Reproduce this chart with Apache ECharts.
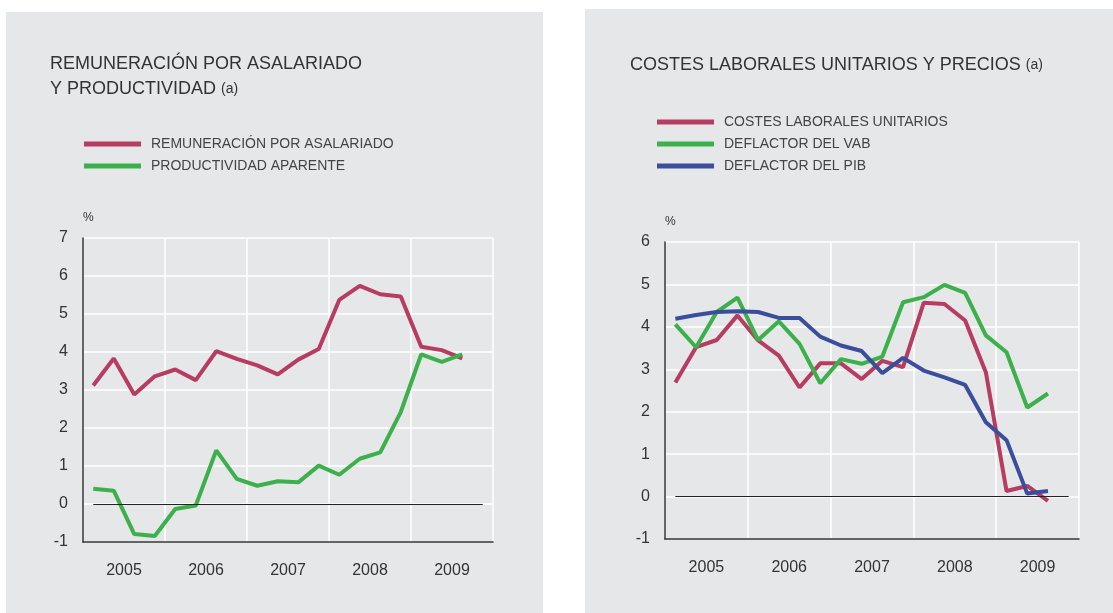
<!DOCTYPE html>
<html>
<head>
<meta charset="utf-8">
<script src="https://cdn.jsdelivr.net/npm/echarts@6/dist/echarts.min.js"></script>
<style>
  html, body { margin: 0; padding: 0; background: #fff; }
  #chart { width: 1113px; height: 613px; }
</style>
</head>
<body>
<div id="chart"></div>
<script>
// datos trimestrales, 2005 I - 2009 III
var years = ['2005', '2006', '2007', '2008', '2009'];
var quarters = [];
years.forEach(function (y) {
  ['I', 'II', 'III', 'IV'].forEach(function (q) { quarters.push(y + ' ' + q); });
});

var remuneracion = [3.12, 3.83, 2.88, 3.36, 3.54, 3.26, 4.02, 3.82, 3.65, 3.41,
  3.80, 4.08, 5.37, 5.74, 5.52, 5.46, 4.14, 4.05, 3.83];
var productividad = [0.40, 0.35, -0.79, -0.84, -0.13, -0.04, 1.41, 0.66, 0.48, 0.60,
  0.57, 1.01, 0.77, 1.19, 1.36, 2.42, 3.94, 3.74, 3.94];

var costesLaborales = [2.69, 3.52, 3.69, 4.27, 3.68, 3.32, 2.57, 3.14, 3.14, 2.77,
  3.20, 3.05, 4.57, 4.54, 4.15, 2.93, 0.13, 0.25, -0.10];
var deflactorVab = [4.06, 3.52, 4.35, 4.69, 3.69, 4.13, 3.60, 2.67, 3.24, 3.13,
  3.30, 4.58, 4.70, 4.99, 4.80, 3.80, 3.40, 2.10, 2.43];
var deflactorPib = [4.19, 4.28, 4.35, 4.37, 4.35, 4.21, 4.21, 3.77, 3.56, 3.43,
  2.91, 3.27, 2.97, 2.81, 2.63, 1.75, 1.33, 0.07, 0.13];

var RED = '#b73c62', GREEN = '#3cb04a', BLUE = '#3b4e9c';
var FONT = '"Liberation Sans", Arial, sans-serif';
var TXT = '#333';

function yearAxis(gridIndex) {
  return {
    type: 'category', gridIndex: gridIndex, data: years, position: 'bottom',
    axisLine: { show: true, onZero: false, lineStyle: { color: '#333', width: 1.5 } },
    axisTick: { show: false },
    axisLabel: { color: TXT, fontSize: 16, fontFamily: FONT, margin: 21 },
    splitLine: { show: true, lineStyle: { color: '#fff', width: 1.5 } }
  };
}
function quarterAxis(gridIndex) {
  return { type: 'category', gridIndex: gridIndex, data: quarters, show: false };
}
function valueAxis(gridIndex, max) {
  return {
    type: 'value', gridIndex: gridIndex, min: -1, max: max, interval: 1,
    name: '%', nameLocation: 'end', nameGap: 14,
    nameTextStyle: { color: TXT, fontSize: 12, fontFamily: FONT, align: 'left' },
    axisLine: { show: true, onZero: false, lineStyle: { color: '#333', width: 1.5 } },
    axisTick: { show: false },
    axisLabel: { color: TXT, fontSize: 16, fontFamily: FONT, margin: 15 },
    splitLine: { show: true, lineStyle: { color: '#fff', width: 1.5 } }
  };
}
function zeroLine() {
  return {
    silent: true, symbol: 'none', label: { show: false },
    lineStyle: { color: '#222', width: 1.2, type: 'solid' },
    data: [[{ coord: [0, 0] }, { coord: [quarters.length - 1, 0] }]]
  };
}
function lineSeries(name, data, color, axisIdx, withZero) {
  var s = {
    name: name, type: 'line', data: data,
    xAxisIndex: axisIdx, yAxisIndex: axisIdx === 1 ? 0 : 1,
    symbol: 'none', itemStyle: { color: color },
    lineStyle: { color: color, width: 4 }
  };
  if (withZero) s.markLine = zeroLine();
  return s;
}
function legend(left, top, names) {
  return {
    left: left, top: top, orient: 'vertical', icon: 'rect', padding: 0,
    itemWidth: 57, itemHeight: 5, itemGap: 8,
    data: names,
    textStyle: { color: '#444', fontSize: 14, fontFamily: FONT, padding: [0, 0, 0, 5] }
  };
}
var titleRich = {
  t: { fontSize: 18, color: TXT, fontFamily: FONT, fontWeight: 'normal', lineHeight: 25 },
  s: { fontSize: 14, color: TXT, fontFamily: FONT, fontWeight: 'normal', lineHeight: 25 }
};

var chart = echarts.init(document.getElementById('chart'));
chart.setOption({
  animation: false,
  graphic: [
    { type: 'rect', z: -10, shape: { x: 6, y: 12, width: 537, height: 601 }, style: { fill: '#e6e7e9' } },
    { type: 'rect', z: -10, shape: { x: 585, y: 9, width: 528, height: 604 }, style: { fill: '#e6e7e9' } }
  ],
  title: [
    {
      left: 50, top: 52, padding: 0,
      text: '{t|REMUNERACIÓN POR ASALARIADO}\n{t|Y PRODUCTIVIDAD} {s|(a)}',
      textStyle: { fontWeight: 'normal', rich: titleRich }
    },
    {
      left: 630, top: 53, padding: 0,
      text: '{t|COSTES LABORALES UNITARIOS Y PRECIOS} {s|(a)}',
      textStyle: { fontWeight: 'normal', rich: titleRich }
    }
  ],
  legend: [
    legend(84, 137, ['REMUNERACIÓN POR ASALARIADO', 'PRODUCTIVIDAD APARENTE']),
    legend(657, 115, ['COSTES LABORALES UNITARIOS', 'DEFLACTOR DEL VAB', 'DEFLACTOR DEL PIB'])
  ],
  grid: [
    { left: 83, top: 238, width: 410, height: 304 },
    { left: 665, top: 242, width: 414, height: 297 }
  ],
  xAxis: [yearAxis(0), quarterAxis(0), yearAxis(1), quarterAxis(1)],
  yAxis: [valueAxis(0, 7), valueAxis(1, 6)],
  series: [
    lineSeries('REMUNERACIÓN POR ASALARIADO', remuneracion, RED, 1, true),
    lineSeries('PRODUCTIVIDAD APARENTE', productividad, GREEN, 1, false),
    lineSeries('COSTES LABORALES UNITARIOS', costesLaborales, RED, 3, true),
    lineSeries('DEFLACTOR DEL VAB', deflactorVab, GREEN, 3, false),
    lineSeries('DEFLACTOR DEL PIB', deflactorPib, BLUE, 3, false)
  ]
});
</script>
</body>
</html>
